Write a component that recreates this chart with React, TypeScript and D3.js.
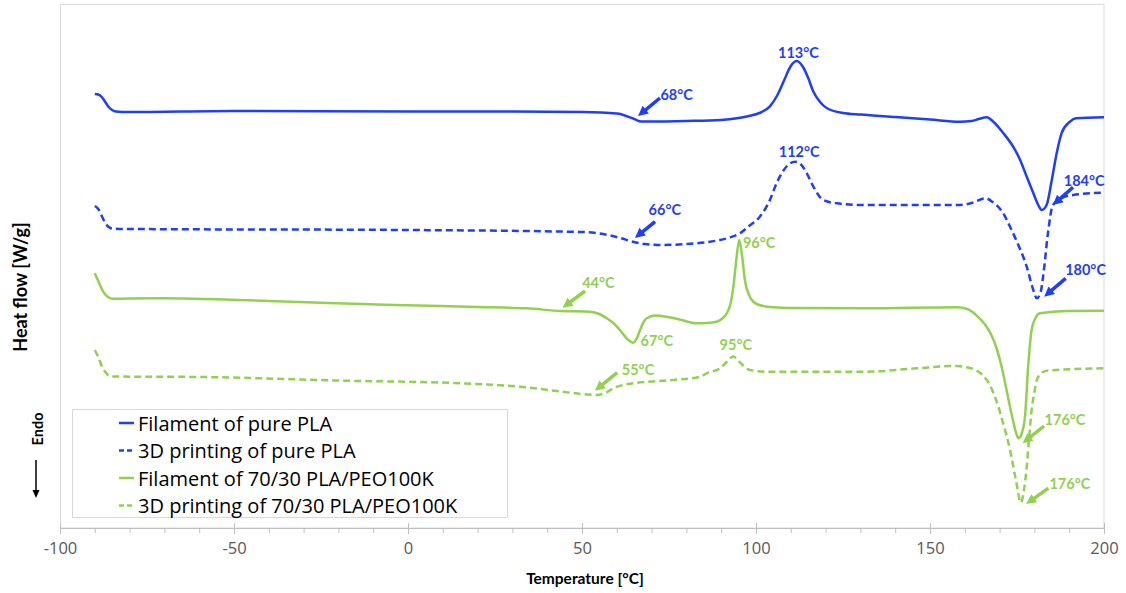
import React, { useRef, useEffect } from "react";
import * as d3 from "d3";

const BLUE = "#1f3ff4";
const GREEN = "#92d050";

// Filament of pure PLA (heat flow in arbitrary offset units)
const tempFilPLA = [-90, -89, -88, -87, -86, -85, -84, -80, -50, 0, 30, 50, 60, 65, 67, 70, 80, 90, 95, 98, 101, 104, 106, 108, 110, 111.7, 113.5, 115, 116.4, 118.4, 120.3, 125, 130, 140, 150, 158.6, 162, 164, 166.3, 168.2, 171.1, 173.9, 175.9, 177.8, 179.7, 181.1, 182.1, 183.5, 185, 186.4, 187.8, 190.2, 192, 200];
const flowFilPLA = [434, 433.5, 431, 426, 421, 418, 416.5, 416, 417, 416.5, 416.5, 416, 414.5, 409, 406.5, 406.5, 407, 408, 410, 412, 415, 421.6, 432, 447, 462, 467, 461, 450, 437, 426, 420, 415, 413.5, 411, 408.5, 406.3, 407, 409, 410.7, 406.3, 394.7, 381.3, 368, 351.3, 334.7, 323, 318, 323, 348, 374.7, 394.7, 406.3, 409.7, 410.7];

// 3D printing of pure PLA
const temp3DPLA = [-90, -89, -88, -87, -86, -85, -80, 0, 50, 57.5, 61, 64.6, 68, 72.4, 80, 86.8, 92, 95.4, 98, 101.1, 104, 105.9, 108, 109.8, 111.2, 112.8, 114.6, 116.5, 119.3, 123.2, 130, 158.6, 162, 165.9, 168, 171, 173, 175.5, 177.8, 179.5, 180.7, 181.8, 182.5, 183.9, 185.3, 188, 191.1, 200];
const flow3DPLA = [322, 319, 312, 305, 301, 299.5, 299, 298, 296, 293, 290, 286.3, 284, 283, 284, 286.3, 290, 294.7, 302, 311.3, 328, 344.7, 358, 364.7, 366.3, 364, 354.7, 341.3, 328, 324.7, 323, 323, 325, 329.7, 326, 315, 301.3, 282, 261.3, 240, 229.7, 236, 251.3, 295, 323, 330, 333, 335.3];

// Filament of 70/30 PLA/PEO100K
const tempFilBlend = [-90, -89, -88, -87, -86, -85, -80, -71, -40, -4, 20, 34, 44, 52.3, 55, 57.1, 59, 60.9, 63, 64.7, 65.8, 66.7, 67.7, 68.6, 71, 74.3, 78, 82.9, 86, 88.7, 90.5, 91.6, 92.8, 93.5, 94.4, 95.2, 96, 96.8, 98, 99.2, 101, 105, 110, 131.7, 157.7, 160.5, 162.4, 164.4, 166, 167.5, 169.2, 170.6, 172, 173.5, 174.6, 175.4, 176.3, 177.3, 178.2, 179.2, 180.3, 181.6, 189.3, 200];
const flowFilBlend = [254.7, 247, 239, 233.5, 230.5, 229.2, 229.5, 229.7, 227, 223, 221, 219.7, 217, 216.3, 214, 209.7, 205, 198, 189, 185.3, 190, 198, 206, 209.7, 212.5, 211.3, 208.5, 204.7, 205, 206.3, 210, 214.7, 226, 241.3, 270, 288, 272, 248, 233, 226.3, 223, 220.7, 220, 219.7, 220.7, 219.2, 215.5, 209, 202.5, 194, 179, 161, 138, 113, 97, 89.7, 94, 111.3, 161.3, 198, 210, 214.7, 217, 217.3];

// 3D printing of 70/30 PLA/PEO100K
const temp3DBlend = [-90, -89, -88, -87, -86, -85, -60, -18, 13, 33, 45, 50, 54.2, 57, 59, 64.7, 76.2, 84, 85.8, 89.7, 91.6, 93.5, 95, 96.5, 98.3, 103, 112.6, 131.8, 146.2, 157.7, 160.5, 163.4, 165.5, 167.2, 169.2, 171, 173, 174.8, 176.1, 177, 177.8, 178.5, 179.2, 180, 180.7, 181.8, 183.5, 200];
const flow3DBlend = [178, 171, 162, 156, 152.5, 151.5, 151, 147.3, 145, 141, 136, 134, 133, 135.5, 139.7, 144.7, 148, 151.3, 154.7, 159.7, 166, 171.5, 167, 162, 158, 156.3, 156.3, 156.3, 159.7, 162, 160.8, 157.5, 151.5, 143, 126, 105, 78, 46, 25.3, 38, 61.3, 91, 118, 136, 148, 154, 157.3, 159.7];

const seriesNames = [
  "Filament of pure PLA",
  "3D printing of pure PLA",
  "Filament of 70/30 PLA/PEO100K",
  "3D printing of 70/30 PLA/PEO100K",
];
const seriesColors = [BLUE, BLUE, GREEN, GREEN];
const seriesDashed = [false, true, false, true];
const seriesTemps = [tempFilPLA, temp3DPLA, tempFilBlend, temp3DBlend];
const seriesFlows = [flowFilPLA, flow3DPLA, flowFilBlend, flow3DBlend];

// peak labels: text, temperature, heat flow
const labelTexts = ["113°C", "68°C", "112°C", "66°C", "184°C", "180°C", "96°C", "44°C", "67°C", "95°C", "55°C", "176°C", "176°C"];
const labelTemps = [112.2, 77.2, 112.4, 73.8, 194.3, 194.7, 100.9, 54.7, 71.5, 94.2, 66.1, 188.8, 190.2];
const labelFlows = [475.5, 433.3, 377, 318.3, 347.5, 259, 285.2, 245.2, 187.2, 183.8, 158.8, 108.3, 45];
const labelColors = [BLUE, BLUE, BLUE, BLUE, BLUE, BLUE, GREEN, GREEN, GREEN, GREEN, GREEN, GREEN, GREEN];

// arrows: [tailT, tailFlow, headT, headFlow]
const arrowCoords = [
  [72.4, 430, 66.1, 412],
  [71, 306.3, 65.2, 290],
  [191.1, 340.7, 185.3, 323],
  [189, 249.7, 182.8, 231.3],
  [50.9, 237, 44.4, 220.3],
  [60.1, 155.3, 53.7, 137.3],
  [182.8, 102, 176.6, 84.7],
  [184, 39.7, 177.6, 24],
];
const arrowColors = [BLUE, BLUE, BLUE, BLUE, GREEN, GREEN, GREEN, GREEN];

const majorTicks = [-100, -50, 0, 50, 100, 150, 200];
const minorTicks = d3.range(-100, 201, 10);

const FONT = "Lato, 'Open Sans', sans-serif";
const BODY_FONT = "'Open Sans', Lato, sans-serif";

export default function App() {
  const svgRef = useRef<SVGSVGElement>(null);

  useEffect(() => {
    const svg = d3.select(svgRef.current);
    svg.selectAll("*").remove();

    const x = d3.scaleLinear().domain([-100, 200]).range([60, 1104]);
    const y = d3.scaleLinear().domain([0, 524]).range([528, 4]);

    // plot frame
    svg
      .append("rect")
      .attr("x", 60.5)
      .attr("y", 4.5)
      .attr("width", 1043.5)
      .attr("height", 523.5)
      .attr("fill", "none")
      .attr("stroke", "#d9d9d9");

    // x axis: minor ticks
    const gMinor = svg.append("g").attr("transform", "translate(0,528)");
    gMinor.call(d3.axisBottom(x).tickValues(minorTicks).tickSize(5).tickFormat(() => ""));
    gMinor.select(".domain").remove();
    gMinor.selectAll("line").attr("stroke", "#bfbfbf");

    // x axis: major ticks + labels
    const gx = svg.append("g").attr("transform", "translate(0,528)");
    gx.call(
      d3
        .axisBottom(x)
        .tickValues(majorTicks)
        .tickSizeInner(6)
        .tickSizeOuter(0)
        .tickPadding(8)
        .tickFormat((d) => String(d))
    );
    gx.select(".domain").attr("stroke", "#bfbfbf");
    gx.selectAll("line").attr("stroke", "#bfbfbf").attr("y1", -5);
    gx.selectAll("text")
      .attr("fill", "#595959")
      .style("font-family", BODY_FONT)
      .style("font-size", "16.5px");

    // curves
    const line = d3
      .line<[number, number]>()
      .x((d) => x(d[0]))
      .y((d) => y(d[1]))
      .curve(d3.curveMonotoneX);

    seriesNames.forEach((name, i) => {
      const pts = d3.zip(seriesTemps[i], seriesFlows[i]) as [number, number][];
      svg
        .append("path")
        .datum(pts)
        .attr("d", line)
        .attr("fill", "none")
        .attr("stroke", seriesColors[i])
        .attr("stroke-width", 2.5)
        .attr("stroke-dasharray", seriesDashed[i] ? "7,4" : null);
    });

    // arrows
    arrowCoords.forEach((a, i) => {
      const tx = x(a[0]), ty = y(a[1]);
      const hx = x(a[2]), hy = y(a[3]);
      const dx = hx - tx, dy = hy - ty;
      const len = Math.hypot(dx, dy);
      const ux = dx / len, uy = dy / len;
      const headLen = 10, headW = 10;
      const bx = hx - ux * headLen, by = hy - uy * headLen;
      svg
        .append("line")
        .attr("x1", tx)
        .attr("y1", ty)
        .attr("x2", bx + ux)
        .attr("y2", by + uy)
        .attr("stroke", arrowColors[i])
        .attr("stroke-width", 3.5);
      svg
        .append("polygon")
        .attr(
          "points",
          [
            [hx, hy],
            [bx - (uy * headW) / 2, by + (ux * headW) / 2],
            [bx + (uy * headW) / 2, by - (ux * headW) / 2],
          ]
            .map((p) => p.join(","))
            .join(" ")
        )
        .attr("fill", arrowColors[i]);
    });

    // peak labels
    labelTexts.forEach((t, i) => {
      svg
        .append("text")
        .attr("x", x(labelTemps[i]))
        .attr("y", y(labelFlows[i]))
        .attr("text-anchor", "middle")
        .attr("dominant-baseline", "central")
        .attr("fill", labelColors[i])
        .style("font-family", FONT)
        .style("font-weight", 700)
        .style("font-size", "14.5px")
        .text(t);
    });

    // legend
    const lg = svg.append("g");
    lg.append("rect")
      .attr("x", 72.5)
      .attr("y", 409.5)
      .attr("width", 435)
      .attr("height", 108)
      .attr("fill", "#fff")
      .attr("stroke", "#d9d9d9");
    seriesNames.forEach((name, i) => {
      const ly = 423 + i * 27.5;
      lg.append("line")
        .attr("x1", 119)
        .attr("x2", 134)
        .attr("y1", ly)
        .attr("y2", ly)
        .attr("stroke", seriesColors[i])
        .attr("stroke-width", 2.5)
        .attr("stroke-dasharray", seriesDashed[i] ? "5,3" : null);
      lg.append("text")
        .attr("x", 138)
        .attr("y", ly)
        .attr("dominant-baseline", "central")
        .attr("fill", "#000")
        .style("font-family", BODY_FONT)
        .style("font-size", "20px")
        .text(name);
    });

    // axis titles
    svg
      .append("text")
      .attr("x", 585)
      .attr("y", 578)
      .attr("text-anchor", "middle")
      .attr("dominant-baseline", "central")
      .style("font-family", FONT)
      .style("font-weight", 700)
      .style("font-size", "15.5px")
      .text("Temperature [°C]");

    svg
      .append("text")
      .attr("transform", "translate(20,287) rotate(-90)")
      .attr("text-anchor", "middle")
      .attr("dominant-baseline", "central")
      .style("font-family", FONT)
      .style("font-weight", 700)
      .style("font-size", "18px")
      .text("Heat flow [W/g]");

    svg
      .append("text")
      .attr("transform", "translate(37,429) rotate(-90)")
      .attr("text-anchor", "middle")
      .attr("dominant-baseline", "central")
      .style("font-family", FONT)
      .style("font-weight", 700)
      .style("font-size", "14.5px")
      .text("Endo");

    svg
      .append("line")
      .attr("x1", 36)
      .attr("x2", 36)
      .attr("y1", 460)
      .attr("y2", 491)
      .attr("stroke", "#000")
      .attr("stroke-width", 1.5);
    svg
      .append("polygon")
      .attr("points", "32.5,490 39.5,490 36,498")
      .attr("fill", "#000");
  }, []);

  return (
    <svg
      ref={svgRef}
      width={1126}
      height={593}
      style={{ position: "absolute", left: 0, top: 0, background: "#fff" }}
    />
  );
}
